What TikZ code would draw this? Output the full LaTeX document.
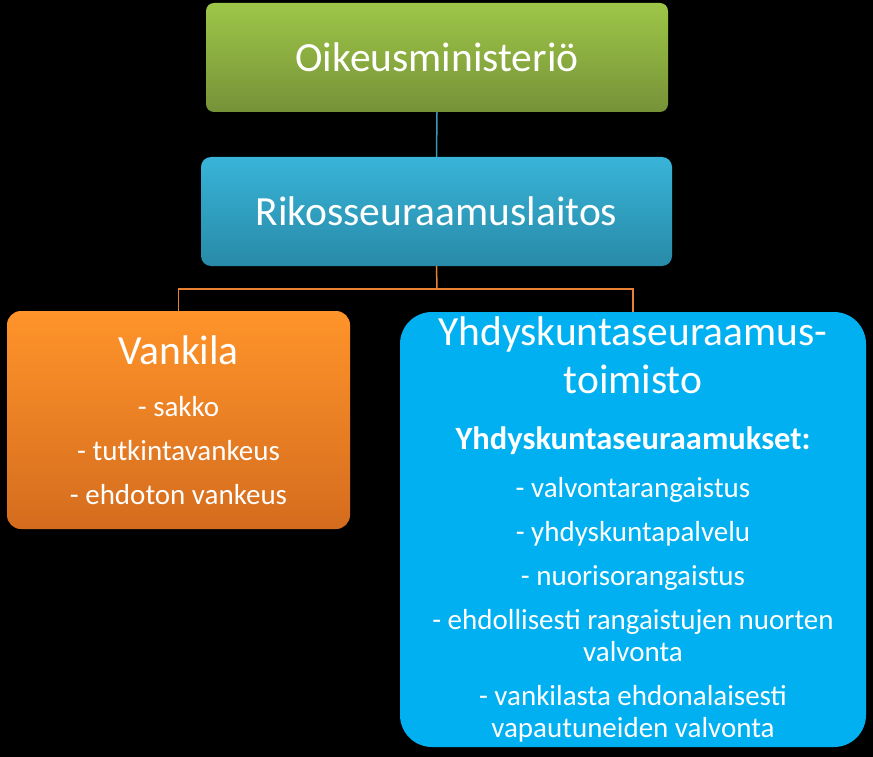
\documentclass[tikz,border=0pt]{standalone}
\usepackage{fontspec}
\setmainfont{Carlito}
\usetikzlibrary{calc}
\definecolor{grtop}{RGB}{158,198,72}
\definecolor{grbot}{RGB}{118,146,56}
\definecolor{bltop}{RGB}{56,180,216}
\definecolor{blbot}{RGB}{40,138,168}
\definecolor{ortop}{RGB}{255,148,42}
\definecolor{orbot}{RGB}{212,108,30}
\definecolor{bigblue}{RGB}{0,176,240}
\definecolor{tealline}{RGB}{60,150,180}
\definecolor{orline}{RGB}{232,130,50}
\tikzset{
  box/.style={rectangle, inner sep=0pt, text=white, align=center},
  conn/.style={line width=1.5pt},
}
\newcommand{\titlefont}{\fontsize{41.5}{44}\selectfont}
\begin{document}
\begin{tikzpicture}[x=1pt,y=-1pt]
\fill[black] (0,0) rectangle (873,757);
\useasboundingbox (0,0) rectangle (873,757);

\node[box, minimum width=462pt, minimum height=109pt, rounded corners=8pt,
  top color=grtop, bottom color=grbot,
  font=\titlefont] (om) at (437,57.5) {Oikeusministeriö};

\node[box, minimum width=471pt, minimum height=109pt, rounded corners=10pt,
  top color=bltop, bottom color=blbot,
  font=\titlefont] (rs) at (436.5,211.5) {Rikosseuraamuslaitos};

\node[box, minimum width=343pt, minimum height=218pt, rounded corners=14pt,
  top color=ortop, bottom color=orbot,
  font=\fontsize{29}{44}\selectfont] (vk) at (178.5,420)
  {{\titlefont Vankila}\\[8pt]- sakko\\- tutkintavankeus\\- ehdoton vankeus};

\node[box, minimum width=466pt, minimum height=435pt, rounded corners=32pt,
  fill=bigblue,
  font=\fontsize{29}{32}\selectfont] (ys) at (633,529.5)
  {{\titlefont Yhdyskuntaseuraamus-}\\[12pt]
   {\titlefont toimisto}\\[24pt]
   {\fontsize{32.5}{32}\selectfont\bfseries Yhdyskuntaseuraamukset:}\\[16pt]
   - valvontarangaistus\\[12pt]
   - yhdyskuntapalvelu\\[12pt]
   - nuorisorangaistus\\[12pt]
   - ehdollisesti rangaistujen nuorten\\
   valvonta\\[12pt]
   - vankilasta ehdonalaisesti\\
   vapautuneiden valvonta};

\coordinate (bus) at (437,289);
\draw[conn, tealline] (om.south) -- (rs.north);
\draw[conn, orline] (rs.south) -- (bus);
\draw[conn, orline] (vk.north) |- (bus) -| (ys.north);
\end{tikzpicture}
\end{document}
